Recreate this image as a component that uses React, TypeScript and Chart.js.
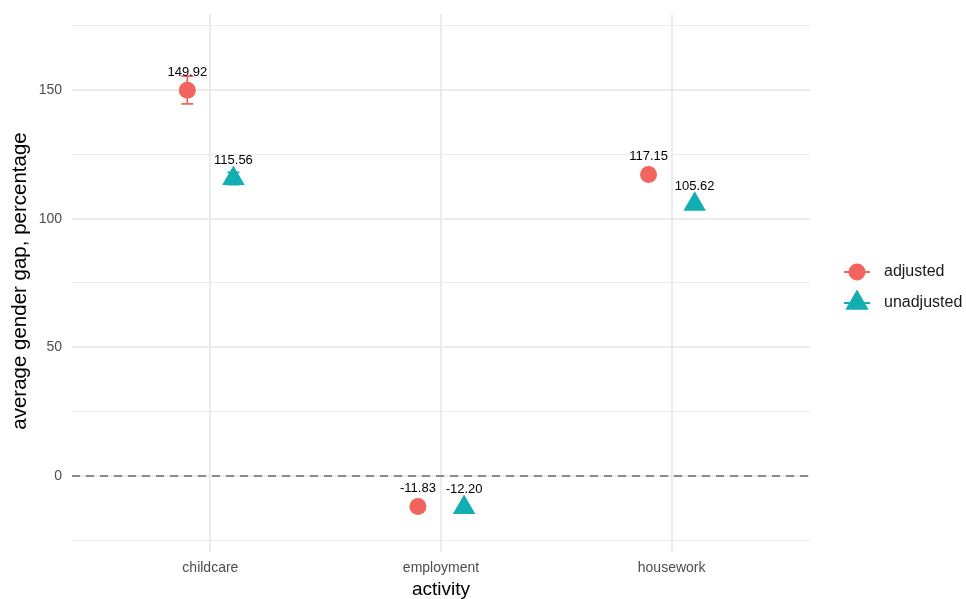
import { useEffect, useRef } from 'react';
import { Chart, registerables } from 'chart.js';

Chart.register(...registerables);

// Gender gap by activity, with and without adjustment
const categories = ['childcare', 'employment', 'housework'];
const seriesNames = ['adjusted', 'unadjusted'];
const adjustedGap = [149.92, -11.83, 117.15];
const unadjustedGap = [115.56, -12.2, 105.62];
const adjustedLow: (number | null)[] = [144.6, null, null];
const adjustedHigh: (number | null)[] = [155.4, null, null];
const unadjustedLow: (number | null)[] = [113.2, null, null];
const unadjustedHigh: (number | null)[] = [118.0, null, null];
const yTicks = [-25, 0, 25, 50, 75, 100, 125, 150, 175];
const yLabelled = [0, 50, 100, 150];

const RED = '#F3645F';
const TEAL = '#13AEB2';
const FONT = "'Liberation Sans', Arial, Helvetica, sans-serif";
const DODGE = 0.1;

function drawMarker(ctx: CanvasRenderingContext2D, style: string, x: number, y: number, r: number, color: string) {
  ctx.fillStyle = color;
  ctx.beginPath();
  if (style === 'circle') {
    ctx.arc(x, y, r, 0, Math.PI * 2);
  } else {
    const a = (2 * Math.PI) / 3;
    ctx.moveTo(x, y - r);
    ctx.lineTo(x + Math.sin(a) * r, y - Math.cos(a) * r);
    ctx.lineTo(x + Math.sin(2 * a) * r, y - Math.cos(2 * a) * r);
    ctx.closePath();
  }
  ctx.fill();
}

const zeroLine = {
  id: 'zeroLine',
  beforeDatasetsDraw(chart: any) {
    const { ctx, chartArea, scales } = chart;
    const y = Math.round(scales.y.getPixelForValue(0));
    ctx.save();
    ctx.strokeStyle = '#8a8a8a';
    ctx.lineWidth = 2;
    ctx.setLineDash([8, 6]);
    ctx.beginPath();
    ctx.moveTo(chartArea.left, y);
    ctx.lineTo(chartArea.right, y);
    ctx.stroke();
    ctx.restore();
  },
};

const errorBars = {
  id: 'errorBars',
  beforeDatasetsDraw(chart: any) {
    const { ctx, scales } = chart;
    chart.data.datasets.forEach((ds: any, di: number) => {
      const meta = chart.getDatasetMeta(di);
      ds.data.forEach((_: any, i: number) => {
        const lo = ds.low[i];
        const hi = ds.high[i];
        if (lo == null || hi == null) return;
        const x = meta.data[i].x;
        const y1 = scales.y.getPixelForValue(lo);
        const y2 = scales.y.getPixelForValue(hi);
        ctx.save();
        ctx.strokeStyle = ds.backgroundColor;
        ctx.lineWidth = 1.8;
        ctx.beginPath();
        ctx.moveTo(x, y1);
        ctx.lineTo(x, y2);
        ctx.moveTo(x - 6, y1);
        ctx.lineTo(x + 6, y1);
        ctx.moveTo(x - 6, y2);
        ctx.lineTo(x + 6, y2);
        ctx.stroke();
        ctx.restore();
      });
    });
  },
};

const valueLabels = {
  id: 'valueLabels',
  afterDatasetsDraw(chart: any) {
    const { ctx } = chart;
    ctx.save();
    ctx.fillStyle = '#000000';
    ctx.font = `13px ${FONT}`;
    ctx.textAlign = 'center';
    ctx.textBaseline = 'middle';
    chart.data.datasets.forEach((ds: any, di: number) => {
      const meta = chart.getDatasetMeta(di);
      ds.data.forEach((p: any, i: number) => {
        const el = meta.data[i];
        ctx.fillText(p.y.toFixed(2), el.x, el.y - 18);
      });
    });
    ctx.restore();
  },
};

const sideLegend = {
  id: 'sideLegend',
  afterDraw(chart: any) {
    const { ctx } = chart;
    const keyX = 857;
    const rows = [
      { name: seriesNames[0], style: 'circle', r: 8.5, color: RED, y: 272 },
      { name: seriesNames[1], style: 'triangle', r: 13.5, color: TEAL, y: 303 },
    ];
    ctx.save();
    rows.forEach((row) => {
      ctx.strokeStyle = row.color;
      ctx.lineWidth = 2;
      ctx.beginPath();
      ctx.moveTo(keyX - 13, row.y);
      ctx.lineTo(keyX + 13, row.y);
      ctx.stroke();
      drawMarker(ctx, row.style, keyX, row.y, row.r, row.color);
      ctx.fillStyle = '#1a1a1a';
      ctx.font = `16px ${FONT}`;
      ctx.textAlign = 'left';
      ctx.textBaseline = 'middle';
      ctx.fillText(row.name, 884, row.y);
    });
    ctx.restore();
  },
};

export default function App() {
  const canvasRef = useRef<HTMLCanvasElement | null>(null);

  useEffect(() => {
    const canvas = canvasRef.current;
    if (!canvas) return;

    const chart = new Chart(canvas, {
      type: 'scatter',
      data: {
        datasets: [
          {
            label: seriesNames[0],
            data: adjustedGap.map((v, i) => ({ x: i - DODGE, y: v })),
            backgroundColor: RED,
            borderWidth: 0,
            pointStyle: 'circle',
            pointRadius: 8.5,
            pointHoverRadius: 8.5,
            low: adjustedLow,
            high: adjustedHigh,
          } as any,
          {
            label: seriesNames[1],
            data: unadjustedGap.map((v, i) => ({ x: i + DODGE, y: v })),
            backgroundColor: TEAL,
            borderWidth: 0,
            pointStyle: 'triangle',
            pointRadius: 13,
            pointHoverRadius: 13,
            low: unadjustedLow,
            high: unadjustedHigh,
          } as any,
        ],
      },
      options: {
        responsive: false,
        animation: false,
        events: [],
        layout: { padding: { left: 0, right: 156, top: 14, bottom: 0 } },
        plugins: {
          legend: { display: false },
          tooltip: { enabled: false },
        },
        scales: {
          x: {
            type: 'linear',
            min: -0.6,
            max: 2.6,
            afterBuildTicks: (scale: any) => {
              scale.ticks = categories.map((_, i) => ({ value: i }));
            },
            afterFit: (scale: any) => {
              scale.height = 51;
              scale.paddingLeft = 0;
              scale.paddingRight = 0;
            },
            ticks: {
              callback: (v: any) => categories[v] ?? '',
              color: '#4d4d4d',
              font: { size: 14, family: FONT },
              padding: 8,
              maxRotation: 0,
              autoSkip: false,
            },
            grid: {
              color: '#ebebeb',
              lineWidth: 2,
              drawTicks: true,
              tickLength: 4,
            },
            border: { display: false },
            title: {
              display: true,
              text: 'activity',
              color: '#000000',
              font: { size: 19, family: FONT, lineHeight: 1 },
              padding: { top: 0, bottom: 0 },
            },
          },
          y: {
            type: 'linear',
            min: -27.98,
            max: 179.53,
            afterBuildTicks: (scale: any) => {
              scale.ticks = yTicks.map((v) => ({ value: v }));
            },
            afterFit: (scale: any) => {
              scale.width = 72;
              scale.paddingTop = 0;
              scale.paddingBottom = 0;
            },
            ticks: {
              callback: (v: any) => (yLabelled.includes(v) ? String(v) : ''),
              color: '#4d4d4d',
              font: { size: 14, family: FONT },
              padding: 10,
              autoSkip: false,
            },
            grid: {
              color: '#ebebeb',
              lineWidth: (c: any) => (yLabelled.includes(c.tick?.value) ? 2 : 1),
              drawTicks: false,
            },
            border: { display: false },
            title: {
              display: true,
              text: 'average gender gap, percentage',
              color: '#000000',
              font: { size: 20.5, family: FONT, lineHeight: 1 },
              padding: { top: 10, bottom: 0 },
            },
          },
        },
      },
      plugins: [zeroLine, errorBars, valueLabels, sideLegend],
    });

    return () => chart.destroy();
  }, []);

  return (
    <div style={{ position: 'fixed', left: 0, top: 0, width: 966, height: 599, background: '#ffffff' }}>
      <canvas ref={canvasRef} width={966} height={599} />
    </div>
  );
}
